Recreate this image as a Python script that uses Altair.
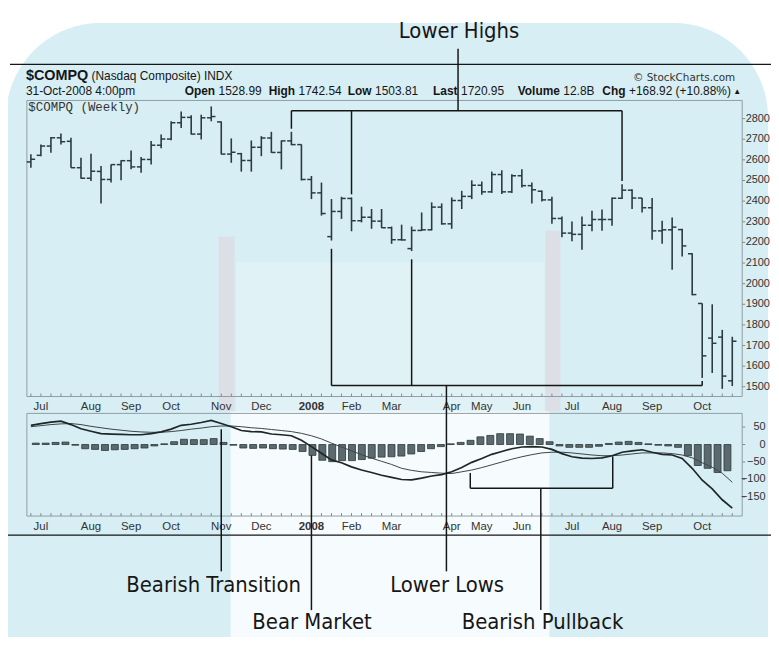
import altair as alt
import pandas as pd

# ---------------- data (weekly $COMPQ, Jun-29-2007 .. Oct-31-2008) ----------------
week = list(range(71))
open_ = [2590, 2622, 2667, 2707, 2690, 2562, 2511, 2544, 2505, 2577,
         2596, 2566, 2602, 2671, 2701, 2780, 2806, 2725, 2804, 2784,
         2628, 2630, 2597, 2661, 2706, 2636, 2692, 2674, 2505, 2440,
         2228, 2350, 2413, 2305, 2322, 2303, 2271, 2213, 2170, 2258,
         2261, 2371, 2290, 2403, 2423, 2477, 2445, 2529, 2445, 2523,
         2475, 2448, 2406, 2316, 2245, 2239, 2283, 2311, 2311, 2414,
         2453, 2415, 2368, 2256, 2261, 2262, 2145, 1904, 1736, 1741, 1528.99]
high = [2627, 2675, 2711, 2728, 2707, 2610, 2630, 2570, 2578, 2598,
        2646, 2614, 2691, 2723, 2787, 2835, 2816, 2819, 2859, 2786,
        2704, 2634, 2694, 2715, 2736, 2694, 2736, 2675, 2522, 2490,
        2410, 2421, 2418, 2373, 2362, 2362, 2277, 2286, 2277, 2345,
        2394, 2389, 2418, 2450, 2501, 2495, 2543, 2550, 2530, 2554,
        2490, 2452, 2421, 2325, 2301, 2325, 2354, 2360, 2418, 2482,
        2458, 2415, 2415, 2305, 2321, 2266, 2148, 1904, 1900, 1776, 1742.54]
low = [2562, 2618, 2634, 2675, 2562, 2508, 2498, 2389, 2490, 2501,
       2554, 2538, 2578, 2656, 2695, 2755, 2723, 2699, 2787, 2627,
       2586, 2543, 2543, 2618, 2634, 2554, 2671, 2500, 2410, 2330,
       2209, 2314, 2254, 2297, 2266, 2270, 2193, 2209, 2158, 2255,
       2258, 2286, 2266, 2362, 2410, 2431, 2440, 2434, 2440, 2466,
       2389, 2398, 2290, 2225, 2206, 2164, 2254, 2257, 2281, 2410,
       2362, 2345, 2213, 2193, 2068, 2132, 1944, 1543, 1567, 1490, 1503.81]
close = [2603, 2667, 2707, 2688, 2562, 2511, 2545, 2505, 2577, 2596,
         2566, 2602, 2671, 2701, 2780, 2806, 2725, 2804, 2810, 2628,
         2637, 2597, 2661, 2706, 2636, 2692, 2674, 2505, 2440, 2340,
         2350, 2413, 2305, 2322, 2303, 2271, 2213, 2212, 2258, 2261,
         2371, 2290, 2403, 2423, 2477, 2445, 2529, 2445, 2523, 2475,
         2455, 2406, 2316, 2245, 2239, 2283, 2311, 2311, 2414, 2453,
         2415, 2368, 2256, 2261, 2274, 2183, 1947, 1650, 1711, 1552, 1720.95]
macd = [55, 60, 64, 67, 57, 45, 38, 31, 30, 29,
        28, 28, 31, 36, 44, 55, 58, 63, 69, 60,
        51, 40, 37, 36, 30, 28, 25, 12, -6, -25,
        -44, -52, -64, -73, -80, -88, -94, -100, -101, -96,
        -90, -86, -78, -66, -51, -40, -28, -20, -12, -7,
        -6, -7, -14, -26, -35, -39, -40, -38, -32, -22,
        -18, -15, -22, -28, -30, -40, -68, -102, -127, -158, -182]
signal = [51, 54, 57, 59, 60, 57, 52, 48, 44, 41,
          38, 36, 35, 35, 37, 40, 44, 47, 51, 53,
          53, 51, 48, 46, 43, 40, 37, 32, 25, 16,
          4, -7, -18, -29, -39, -48, -57, -68, -74, -78,
          -80, -82, -83, -78, -73, -66, -58, -50, -42, -35,
          -29, -24, -22, -22, -24, -27, -30, -32, -32, -30,
          -27, -24, -24, -24, -26, -30, -38, -52, -65, -82, -108]
hist = [4, 4, 6, 7, -2, -12, -14, -17, -15, -14,
        -12, -10, -4, 2, 8, 15, 14, 14, 17, 6,
        -2, -10, -11, -10, -12, -13, -14, -20, -31, -45,
        -49, -46, -46, -43, -39, -36, -35, -33, -27, -20,
        -12, -6, 2, 6, 12, 22, 26, 31, 31, 30,
        24, 17, 8, -4, -8, -8, -8, -5, 3, 7,
        9, 6, 2, -2, -4, -8, -32, -60, -68, -80, -75]

month_ticks = [1, 6, 10, 14, 19, 23, 28, 32, 36, 42, 45, 49, 54, 58, 62, 67]
month_labels = ["Jul", "Aug", "Sep", "Oct", "Nov", "Dec", "2008", "Feb", "Mar",
                "Apr", "May", "Jun", "Jul", "Aug", "Sep", "Oct"]
price_ticks = list(range(1500, 2801, 100))
macd_ticks = [50, 0, -50, -100, -150]

# ---------------- layout ----------------
W, H = 720, 629
PAD = {"left": 19, "right": 29, "top": 0, "bottom": 0}
X_DOM = [-0.4, 70.99]
P_DOM, P_RANGE = [1453, 2888], [389, 91]
M_DOM, M_RANGE = [-204.5, 89], [509.3, 406]

BG_BLUE = "#d7eef4"
BAR = "#2a3b41"
INK = "#161616"
FRAME = "#8f9ea2"
TICK = "#7f8c90"
LABEL = "#333333"
SANS = "Liberation Sans, Arial, sans-serif"
NARROW = "DejaVu Sans Condensed, DejaVu Sans, sans-serif"
ANN_SIZE = 22


def px_i(px):  # page x -> week units
    return X_DOM[0] + (px - 27) * (X_DOM[1] - X_DOM[0]) / W


def py_p(py):  # page y -> price units
    return P_DOM[1] - (py - 8 - P_RANGE[1]) * (P_DOM[1] - P_DOM[0]) / (P_RANGE[0] - P_RANGE[1])


def py_m(py):  # page y -> macd units
    return M_DOM[1] - (py - 8 - M_RANGE[1]) * (M_DOM[1] - M_DOM[0]) / (M_RANGE[0] - M_RANGE[1])


UX = (X_DOM[1] - X_DOM[0]) / W                          # week units per pixel
UP = (P_DOM[1] - P_DOM[0]) / (P_RANGE[0] - P_RANGE[1])  # price units per pixel
UM = (M_DOM[1] - M_DOM[0]) / (M_RANGE[0] - M_RANGE[1])  # macd units per pixel


def X(field):
    return alt.X(field, type="quantitative", title=None, axis=None,
                 scale=alt.Scale(domain=X_DOM, range=[0, W], nice=False, zero=False))


def YP(field):
    return alt.Y(field, type="quantitative", title=None, axis=None,
                 scale=alt.Scale(domain=P_DOM, range=P_RANGE, nice=False, zero=False))


def YM(field):
    return alt.Y(field, type="quantitative", title=None, axis=None,
                 scale=alt.Scale(domain=M_DOM, range=M_RANGE, nice=False, zero=False))


df = pd.DataFrame({"week": week, "open": open_, "high": high, "low": low, "close": close,
                   "macd": macd, "signal": signal, "hist": hist})

# ---------------- background (page tint + faint book watermark) & frames ----------------
bg = alt.Chart(pd.DataFrame({"x": [px_i(6)], "x2": [px_i(773)],
                             "y": [py_p(21)], "y2": [py_p(760)]})).mark_rect(
    color=BG_BLUE, cornerRadius=95).encode(x=X("x"), x2="x2", y=YP("y"), y2="y2")

wm = pd.DataFrame([
    {"x": px_i(232), "x2": px_i(553), "y": py_p(412), "y2": py_p(700), "c": "#ffffff", "o": 0.78},
    {"x": px_i(238), "x2": px_i(548), "y": py_p(262), "y2": py_p(412), "c": "#ffffff", "o": 0.25},
    {"x": px_i(220), "x2": px_i(236), "y": py_p(236), "y2": py_p(412), "c": "#e7c3cd", "o": 0.35},
    {"x": px_i(549), "x2": px_i(564), "y": py_p(230), "y2": py_p(412), "c": "#e7c3cd", "o": 0.35},
])
watermark = alt.Chart(wm).mark_rect().encode(
    x=X("x"), x2="x2", y=YP("y"), y2="y2",
    color=alt.Color("c:N", scale=None), opacity=alt.Opacity("o:Q", scale=None))

frame_p = alt.Chart(pd.DataFrame({"x": [X_DOM[0]], "x2": [X_DOM[1]], "y": [P_DOM[0]], "y2": [P_DOM[1]]})).mark_rect(
    fillOpacity=0, stroke=FRAME, strokeWidth=1).encode(x=X("x"), x2="x2", y=YP("y"), y2="y2")
frame_m = alt.Chart(pd.DataFrame({"x": [X_DOM[0]], "x2": [X_DOM[1]], "y": [M_DOM[0]], "y2": [M_DOM[1]]})).mark_rect(
    fillOpacity=0, stroke=FRAME, strokeWidth=1).encode(x=X("x"), x2="x2", y=YM("y"), y2="y2")

borders = alt.Chart(pd.DataFrame({"x": [px_i(10), px_i(0)], "x2": [px_i(779), px_i(779)],
                                  "y": [py_p(62.7), py_p(536.5)]})).mark_rule(
    color=INK, strokeWidth=1.2).encode(x=X("x"), x2="x2", y=YP("y"))

# ---------------- axes (ticks + labels drawn through the scales) ----------------
wk = pd.DataFrame({"week": week})
xt_p = alt.Chart(wk).transform_calculate(y0=str(P_DOM[0]), y1="%f" % (P_DOM[0] + 3 * UP)).mark_rule(
    color=TICK, strokeWidth=1).encode(x=X("week"), y=YP("y0"), y2="y1")
xt_m = alt.Chart(wk).transform_calculate(y0=str(M_DOM[0]), y1="%f" % (M_DOM[0] + 3 * UM)).mark_rule(
    color=TICK, strokeWidth=1).encode(x=X("week"), y=YM("y0"), y2="y1")

mdf = pd.DataFrame({"week": month_ticks, "label": month_labels})


def month_layer(yfun, ypix):
    base = alt.Chart(mdf).transform_calculate(ly="%f" % yfun(ypix))
    yenc = YP("ly") if yfun is py_p else YM("ly")
    reg = base.transform_filter("datum.label != '2008'").mark_text(
        align="center", baseline="alphabetic", font=SANS, fontSize=11.5, color=LABEL).encode(
        x=X("week"), y=yenc, text="label")
    bold = base.transform_filter("datum.label == '2008'").mark_text(
        align="center", baseline="alphabetic", font=SANS, fontSize=11.5, fontWeight="bold",
        color=LABEL).encode(x=X("week"), y=yenc, text="label")
    return [reg, bold]


pt = pd.DataFrame({"v": price_ticks})
yt_p = alt.Chart(pt).transform_calculate(x0=str(X_DOM[1]), x1="%f" % (X_DOM[1] + 3 * UX)).mark_rule(
    color=TICK, strokeWidth=1).encode(x=X("x0"), x2="x1", y=YP("v"))
yl_p = alt.Chart(pt).transform_calculate(lx="%f" % px_i(750.5), t="format(datum.v, 'd')").mark_text(
    align="left", baseline="middle", font=SANS, fontSize=11, color=LABEL).encode(
    x=X("lx"), y=YP("v"), text="t:N")

mt = pd.DataFrame({"v": macd_ticks})
yt_m = alt.Chart(mt).transform_calculate(x0=str(X_DOM[1]), x1="%f" % (X_DOM[1] + 3 * UX)).mark_rule(
    color=TICK, strokeWidth=1).encode(x=X("x0"), x2="x1", y=YM("v"))
yl_m = alt.Chart(mt).transform_calculate(lx="%f" % px_i(770.5), t="format(datum.v, 'd')").mark_text(
    align="right", baseline="middle", font=SANS, fontSize=11, color=LABEL).encode(
    x=X("lx"), y=YM("v"), text="t:N")

# ---------------- price bars ----------------
hl = alt.Chart(df).mark_rule(color=BAR, strokeWidth=1.6).encode(x=X("week"), y=YP("low"), y2="high")
op = alt.Chart(df).transform_calculate(xo="datum.week - 0.42").mark_rule(
    color=BAR, strokeWidth=1.5).encode(x=X("xo"), x2="week", y=YP("open"))
cl = alt.Chart(df).transform_calculate(xc="datum.week + 0.42").mark_rule(
    color=BAR, strokeWidth=1.5).encode(x=X("week"), x2="xc", y=YP("close"))

# ---------------- MACD ----------------
hbar = alt.Chart(df).transform_calculate(zero="0").mark_bar(
    size=7, color="#5b6a6e", stroke="#2c3739", strokeWidth=0.8).encode(
    x=X("week"), y=YM("hist"), y2="zero")
sig_line = alt.Chart(df).mark_line(color="#3b4548", strokeWidth=1.0).encode(x=X("week"), y=YM("signal"))
macd_line = alt.Chart(df).mark_line(color="#1f2628", strokeWidth=1.7).encode(x=X("week"), y=YM("macd"))

# ---------------- header text ----------------
L2 = py_p(93.5)
hdr = pd.DataFrame([
    {"t": "$COMPQ", "x": px_i(26), "y": py_p(78.5), "fs": 14.5, "b": 1, "a": "left"},
    {"t": "(Nasdaq Composite) INDX", "x": px_i(92), "y": py_p(78.5), "fs": 12, "b": 0, "a": "left"},
    {"t": "31-Oct-2008 4:00pm", "x": px_i(26), "y": L2, "fs": 12, "b": 0, "a": "left"},
    {"t": "Open", "x": px_i(216.5), "y": L2, "fs": 12, "b": 1, "a": "right"},
    {"t": "1528.99", "x": px_i(220), "y": L2, "fs": 12, "b": 0, "a": "left"},
    {"t": "High", "x": px_i(297), "y": L2, "fs": 12, "b": 1, "a": "right"},
    {"t": "1742.54", "x": px_i(300.5), "y": L2, "fs": 12, "b": 0, "a": "left"},
    {"t": "Low", "x": px_i(374), "y": L2, "fs": 12, "b": 1, "a": "right"},
    {"t": "1503.81", "x": px_i(377.5), "y": L2, "fs": 12, "b": 0, "a": "left"},
    {"t": "Last", "x": px_i(460.5), "y": L2, "fs": 12, "b": 1, "a": "right"},
    {"t": "1720.95", "x": px_i(464), "y": L2, "fs": 12, "b": 0, "a": "left"},
    {"t": "Volume", "x": px_i(563.5), "y": L2, "fs": 12, "b": 1, "a": "right"},
    {"t": "12.8B", "x": px_i(567), "y": L2, "fs": 12, "b": 0, "a": "left"},
    {"t": "Chg", "x": px_i(629.5), "y": L2, "fs": 12, "b": 1, "a": "right"},
    {"t": "+168.92 (+10.88%)", "x": px_i(633), "y": L2, "fs": 12, "b": 0, "a": "left"},
    {"t": "\u25b2", "x": px_i(738), "y": py_p(92.5), "fs": 8, "b": 0, "a": "left"},
])
hdr_layers = []
for a in ["left", "right"]:
    for b in [0, 1]:
        sub = hdr[(hdr.a == a) & (hdr.b == b)]
        if len(sub) == 0:
            continue
        hdr_layers.append(alt.Chart(sub).mark_text(
            align=a, baseline="alphabetic", font=SANS, color=INK,
            fontWeight=("bold" if b else "normal")).encode(
            x=X("x"), y=YP("y"), text="t", size=alt.Size("fs:Q", scale=None)))

credit = alt.Chart(pd.DataFrame({"t": ["\u00a9 StockCharts.com"], "x": [px_i(740)], "y": [py_p(79)]})).mark_text(
    align="right", baseline="alphabetic", font="DejaVu Sans, sans-serif", fontSize=10.5, color=LABEL).encode(
    x=X("x"), y=YP("y"), text="t")
panel_lbl = alt.Chart(pd.DataFrame({"t": ["$COMPQ (Weekly)"], "x": [px_i(28.5)], "y": [py_p(110)]})).mark_text(
    align="left", baseline="alphabetic", font="Liberation Mono, DejaVu Sans Mono, monospace", fontSize=12.5,
    color=LABEL).encode(x=X("x"), y=YP("y"), text="t")

# ---------------- annotations ----------------
LH = py_p(109.3)
LL = py_p(386)
segs_p = [dict(x=px_i(461), x2=px_i(461), y=py_p(47), y2=LH),
          dict(x=26, x2=59, y=LH, y2=LH)]
for b in [26, 32, 59]:
    segs_p.append(dict(x=b, x2=b, y=LH, y2=high[b] + 15))
for b in [30, 38]:
    segs_p.append(dict(x=b, x2=b, y=low[b] - 40, y2=LL))
segs_p.append(dict(x=30, x2=67, y=LL, y2=LL))
segs_p.append(dict(x=67, x2=67, y=LL, y2=low[67] - 15))
segs_p.append(dict(x=px_i(449.3), x2=px_i(449.3), y=LL, y2=py_p(573)))

PB = py_m(489.3)
segs_m = [dict(x=19, x2=19, y=py_m(430), y2=py_m(573)),
          dict(x=28, x2=28, y=hist[28], y2=py_m(612)),
          dict(x=px_i(473.3), x2=px_i(473.3), y=py_m(474), y2=PB),
          dict(x=px_i(616.7), x2=px_i(616.7), y=py_m(457.3), y2=PB),
          dict(x=px_i(473.3), x2=px_i(616.7), y=PB, y2=PB),
          dict(x=px_i(544.3), x2=px_i(544.3), y=PB, y2=py_m(612))]

ann_p = alt.Chart(pd.DataFrame(segs_p)).mark_rule(color=INK, strokeWidth=1.5).encode(
    x=X("x"), x2="x2", y=YP("y"), y2="y2")
ann_m = alt.Chart(pd.DataFrame(segs_m)).mark_rule(color=INK, strokeWidth=1.5).encode(
    x=X("x"), x2="x2", y=YM("y"), y2="y2")

txt_m = pd.DataFrame([
    {"t": "Bearish Transition", "x": px_i(215), "y": py_m(594)},
    {"t": "Lower Lows", "x": px_i(450), "y": py_m(594)},
    {"t": "Bear Market", "x": px_i(314), "y": py_m(631)},
    {"t": "Bearish Pullback", "x": px_i(546), "y": py_m(631)},
])
ann_txt_m = alt.Chart(txt_m).mark_text(align="center", baseline="alphabetic", font=NARROW,
                                       fontSize=ANN_SIZE, color=INK).encode(x=X("x"), y=YM("y"), text="t")
ann_txt_p = alt.Chart(pd.DataFrame({"t": ["Lower Highs"], "x": [px_i(462)], "y": [py_p(36)]})).mark_text(
    align="center", baseline="alphabetic", font=NARROW, fontSize=ANN_SIZE, color=INK).encode(
    x=X("x"), y=YP("y"), text="t")

chart = alt.layer(
    bg, watermark, frame_p, frame_m, borders,
    xt_p, xt_m, *month_layer(py_p, 410.5), *month_layer(py_m, 531), yt_p, yl_p, yt_m, yl_m,
    hl, op, cl,
    hbar, sig_line, macd_line,
    *hdr_layers, credit, panel_lbl,
    ann_p, ann_m, ann_txt_m, ann_txt_p,
).resolve_scale(x="independent", y="independent").properties(
    width=W, height=H, padding=PAD, autosize=alt.AutoSizeParams(type="none"),
    background="#ffffff",
).configure_view(stroke=None)

chart.save("out.html", embed_options={"renderer": "svg", "actions": False})
